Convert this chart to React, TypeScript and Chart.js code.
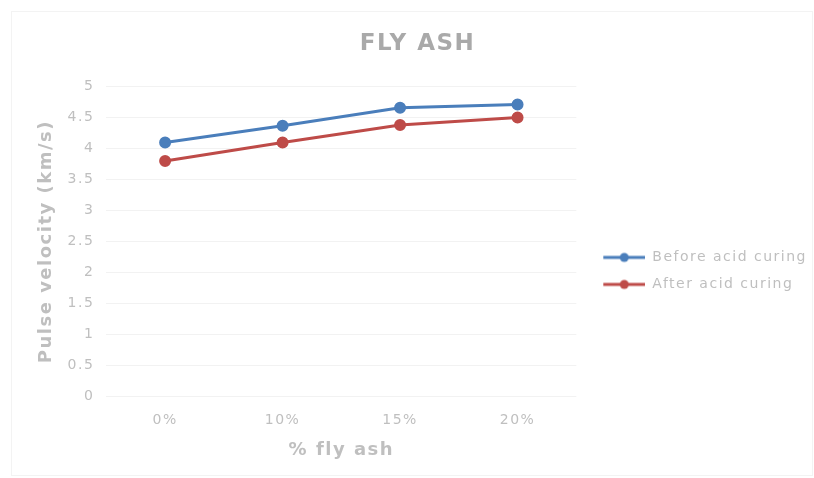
import React, { useEffect, useRef } from "react";
import { Chart, registerables } from "chart.js";

Chart.register(...registerables);

const categories = ["0%", "10%", "15%", "20%"];
const beforeCuring = [4.1, 4.37, 4.66, 4.71];
const afterCuring = [3.8, 4.1, 4.38, 4.5];
const seriesNames = ["Before acid curing", "After acid curing"];
const yTickValues = [0, 0.5, 1, 1.5, 2, 2.5, 3, 3.5, 4, 4.5, 5];
const chartTitle = "FLY ASH";
const xTitle = "% fly ash";
const yTitle = "Pulse velocity (km/s)";

const BLUE = "#4a7ebb";
const RED = "#be4b48";
const TEXT = "#bfbfbf";
const FONT = "'DejaVu Sans', sans-serif";
const SPACING = "1.5px";

function legendMarker(color: string, margin: number) {
  const c = document.createElement("canvas");
  c.width = margin + 42;
  c.height = 12;
  const ctx = c.getContext("2d")!;
  ctx.strokeStyle = color;
  ctx.lineWidth = 3;
  ctx.beginPath();
  ctx.moveTo(margin, 6);
  ctx.lineTo(margin + 42, 6);
  ctx.stroke();
  ctx.fillStyle = color;
  ctx.beginPath();
  ctx.arc(margin + 21, 6, 4.5, 0, Math.PI * 2);
  ctx.fill();
  return c;
}

function patchMeasure(ctx: any) {
  if (ctx.__patched) return;
  ctx.__patched = true;
  const orig = ctx.measureText.bind(ctx);
  ctx.letterSpacing = "0px";
  const w0 = orig("abcdefghij").width;
  ctx.letterSpacing = "10px";
  const w1 = orig("abcdefghij").width;
  ctx.letterSpacing = "0px";
  if (w1 - w0 > 50) return;
  ctx.measureText = (t: string) => {
    const m = orig(t);
    const sp = parseFloat(ctx.letterSpacing) || 0;
    const n = Array.from(String(t)).length;
    return {
      width: m.width + n * sp,
      actualBoundingBoxAscent: m.actualBoundingBoxAscent,
      actualBoundingBoxDescent: m.actualBoundingBoxDescent,
      actualBoundingBoxLeft: m.actualBoundingBoxLeft,
      actualBoundingBoxRight: m.actualBoundingBoxRight + n * sp,
      fontBoundingBoxAscent: m.fontBoundingBoxAscent,
      fontBoundingBoxDescent: m.fontBoundingBoxDescent,
    };
  };
}

const spacingPlugin = {
  id: "letterSpacing",
  beforeUpdate(chart: any) {
    patchMeasure(chart.ctx);
    chart.ctx.letterSpacing = SPACING;
    const lg = chart.legend;
    if (lg && !lg.__wide) {
      lg.__wide = true;
      const origUpdate = lg.update.bind(lg);
      lg.update = (mw: number, mh: number, margins: any) => origUpdate(Math.max(mw, 280), mh, margins);
    }
  },
  beforeDraw(chart: any) {
    chart.ctx.letterSpacing = SPACING;
  },
};

export default function App() {
  const ref = useRef<HTMLCanvasElement | null>(null);
  useEffect(() => {
    if (!ref.current) return;
    const legendPad = 13;
    const margin = 14;
    const markers = [legendMarker(BLUE, margin), legendMarker(RED, margin)];
    const chart = new Chart(ref.current, {
      type: "line",
      plugins: [spacingPlugin],
      data: {
        labels: categories,
        datasets: [
          {
            label: seriesNames[0],
            data: beforeCuring,
            borderColor: BLUE,
            backgroundColor: BLUE,
            borderWidth: 3,
            pointRadius: 4.5,
            pointBackgroundColor: BLUE,
            pointBorderColor: BLUE,
            tension: 0,
          },
          {
            label: seriesNames[1],
            data: afterCuring,
            borderColor: RED,
            backgroundColor: RED,
            borderWidth: 3,
            pointRadius: 4.5,
            pointBackgroundColor: RED,
            pointBorderColor: RED,
            tension: 0,
          },
        ],
      },
      options: {
        responsive: false,
        animation: false,
        layout: { padding: { left: 18, right: -3, top: 12, bottom: 17 } },
        plugins: {
          title: {
            display: true,
            text: chartTitle,
            color: "#a9a9a9",
            font: { family: FONT, size: 23, weight: "bold", lineHeight: 1.2 },
            padding: { top: 18, bottom: 29 },
          },
          legend: {
            position: "right",
            align: "center",
            title: { display: true, text: " ", padding: { top: 52, bottom: 0 }, font: { size: 14 } },
            labels: {
              color: TEXT,
              font: { family: FONT, size: 14 },
              usePointStyle: true,
              pointStyleWidth: margin + 42,
              boxHeight: 12,
              padding: legendPad,
              generateLabels: (ch: any) =>
                ch.data.datasets.map((ds: any, i: number) => ({
                  text: ds.label,
                  fillStyle: ds.borderColor,
                  strokeStyle: ds.borderColor,
                  fontColor: TEXT,
                  pointStyle: markers[i],
                  datasetIndex: i,
                  hidden: false,
                  lineWidth: 0,
                })),
            },
          },
          tooltip: { enabled: false },
        },
        scales: {
          x: {
            offset: true,
            grid: { display: false, drawTicks: false },
            border: { display: false },
            ticks: { color: TEXT, font: { family: FONT, size: 14 }, padding: 15 },
            title: {
              display: true,
              text: xTitle,
              color: TEXT,
              font: { family: FONT, size: 18, weight: "bold", lineHeight: 1.2 },
              padding: { top: -4, bottom: 0 },
            },
          },
          y: {
            min: 0,
            max: 5,
            afterBuildTicks: (s: any) => {
              s.ticks = yTickValues.map((v) => ({ value: v }));
            },
            ticks: {
              color: TEXT,
              font: { family: FONT, size: 14 },
              padding: 12,
              callback: (v: any) => String(Number(v)),
            },
            grid: { color: "#f2f2f2", drawTicks: false, lineWidth: 1 },
            border: { display: false },
            title: {
              display: true,
              text: yTitle,
              color: TEXT,
              font: { family: FONT, size: 18, weight: "bold", lineHeight: 1.2 },
              padding: { top: 18, bottom: -2 },
            },
          },
        },
      },
    });
    return () => chart.destroy();
  }, []);
  return (
    <div style={{ position: "absolute", left: 0, top: 0, width: 814, height: 478, background: "#fff" }}>
      <div
        style={{
          position: "absolute",
          left: 11,
          top: 11,
          width: 800,
          height: 463,
          border: "1px solid #f3f3f3",
        }}
      />
      <canvas ref={ref} width={814} height={478} style={{ position: "absolute", left: 0, top: 0 }} />
    </div>
  );
}
